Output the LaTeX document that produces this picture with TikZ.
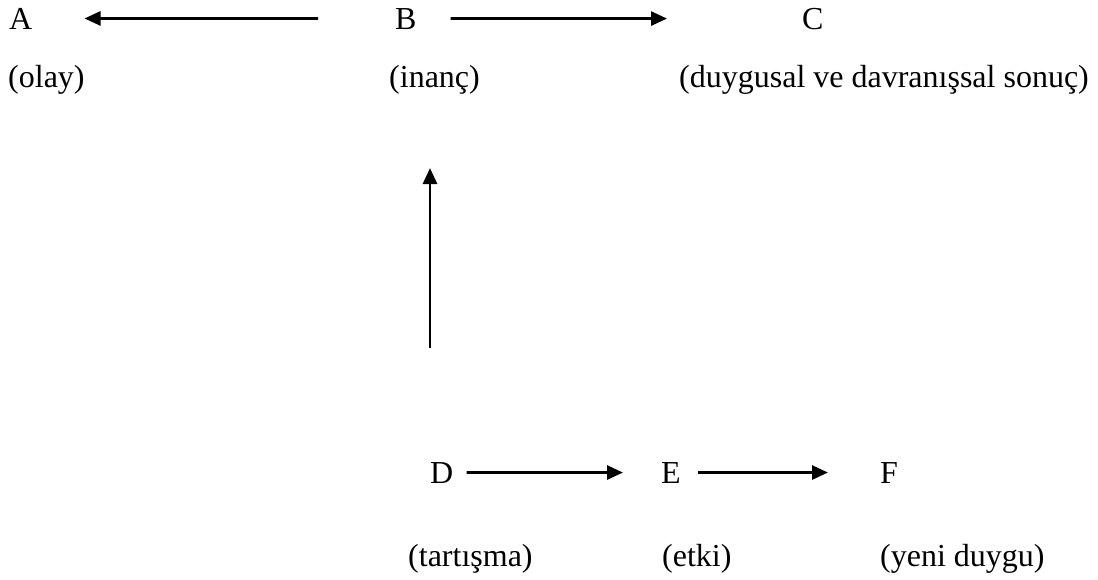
\documentclass[tikz,border=0pt]{standalone}
\usepackage{fontspec}
\setmainfont{Liberation Serif}
\usetikzlibrary{arrows.meta}
\begin{document}
\begin{tikzpicture}[x=1pt,y=-1pt,
  lbl/.style={anchor=base west,inner sep=0pt,font=\fontsize{32}{38}\selectfont},
  arr/.style={-{Triangle[length=16pt,width=14pt]},line width=2.8pt}]
\useasboundingbox (0,0) rectangle (1098,579);
\node[lbl] (A) at (9,29) {A};
\node[lbl] (B) at (395,29) {B};
\node[lbl] (C) at (802,29) {C};
\node[lbl] (olay) at (8,87) {(olay)};
\node[lbl] (inanc) at (389,87) {(inanç)};
\node[lbl] (sonuc) at (679,87) {(duygusal ve davranışsal sonuç)};
\node[lbl] (D) at (430,483) {D};
\node[lbl] (E) at (661,483) {E};
\node[lbl] (F) at (880,483) {F};
\node[lbl] (tartisma) at (408,566) {(tartışma)};
\node[lbl] (etki) at (662,566) {(etki)};
\node[lbl] (yeni) at (880,566) {(yeni duygu)};
\draw[arr,shorten <=77pt,shorten >=52pt] (B.west) -- (A.east);
\draw[arr,shorten <=34pt,shorten >=135pt] (B.east) -- (C.west);
\draw[arr,shorten <=114pt,shorten >=74pt] (D.north west) -- (D.north west |- inanc.south);
\draw[arr,shorten <=13pt,shorten >=38pt] (D.east) -- (E.west);
\draw[arr,shorten <=17pt,shorten >=52pt] (E.east) -- (F.west);
\end{tikzpicture}
\end{document}
